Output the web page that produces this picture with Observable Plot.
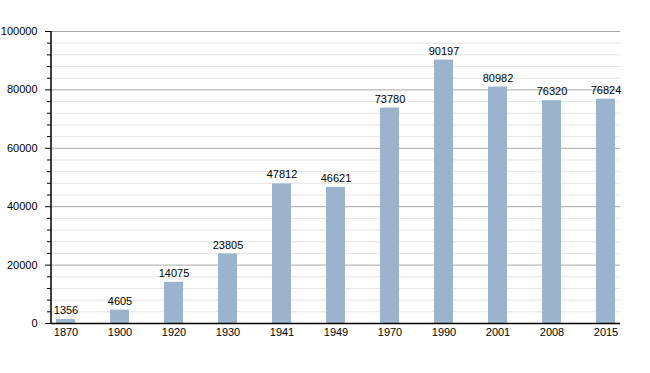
<!DOCTYPE html>
<html><head><meta charset="utf-8">
<script src="https://cdn.jsdelivr.net/npm/d3@7"></script>
<script src="https://cdn.jsdelivr.net/npm/@observablehq/plot@0.6"></script>
<style>body{margin:0;background:#fff;} svg{font-family:"Liberation Sans",Arial,sans-serif;}</style>
</head><body><div id="chart"></div>
<script>
const years = ["1870","1900","1920","1930","1941","1949","1970","1990","2001","2008","2015"];
const population = [1356,4605,14075,23805,47812,46621,73780,90197,80982,76320,76824];
const majorTicks = [0,20000,40000,60000,80000,100000];
const minorTicks = d3.range(0,100001,4000).filter(v => v % 20000 !== 0);

const data = years.map((y,i) => ({year:y, value:population[i]}));

const chart = Plot.plot({
  width: 650, height: 373,
  marginLeft: 51, marginRight: 30, marginTop: 31, marginBottom: 50,
  style: {fontSize: "11px", fontFamily: "Liberation Sans, Arial, sans-serif", color: "#000"},
  x: {type: "band", domain: years, range: [50.5, 620], paddingInner: 0.64, paddingOuter: 0, align: 0.5, label: null},
  y: {domain: [0, 100000], label: null},
  marks: [
    Plot.ruleY(minorTicks, {stroke: "#e4e4e4", strokeWidth: 1, strokeOpacity: 1}),
    Plot.ruleY(majorTicks.filter(v => v > 0), {stroke: "#a8a8a8", strokeWidth: 1, strokeOpacity: 1}),
    Plot.barY(data, {x: "year", y: "value", fill: "#9bb3cc"}),
    Plot.text(data, {x: "year", y: "value", text: d => String(d.value), dy: -9, fill: "#000", fontSize: 11}),
    Plot.axisY(minorTicks, {tickSize: 4, tickFormat: () => "", stroke: "#000"}),
    Plot.axisY(majorTicks, {tickSize: 6, tickPadding: 8, tickFormat: d => String(d), stroke: "#000", fill: "#000"}),
    Plot.axisX({tickSize: 0, tickPadding: 5, fill: "#000"}),
    Plot.ruleY([0], {stroke: "#000", strokeWidth: 1.5})
  ]
});
const svg = d3.select(chart);
svg.append("line").attr("x1", 51).attr("x2", 51).attr("y1", 31).attr("y2", 323)
  .attr("stroke", "#000").attr("stroke-width", 1.5);
document.getElementById("chart").appendChild(chart);
</script></body></html>
